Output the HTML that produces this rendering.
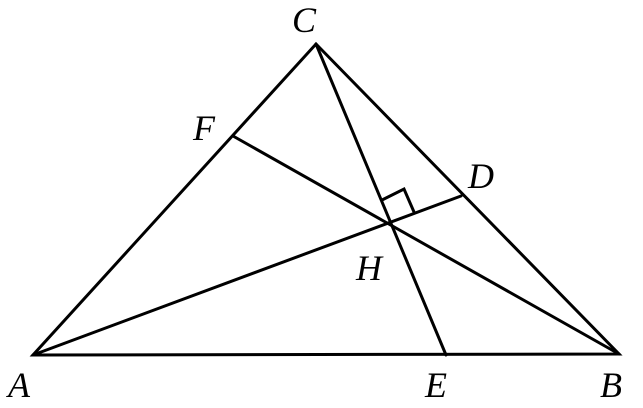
<!DOCTYPE html>
<html><head><style>body{margin:0;background:#fff}</style></head><body>
<svg width="643" height="403" viewBox="0 0 643 403" xmlns="http://www.w3.org/2000/svg">
<g stroke="#000" stroke-width="3" fill="none" stroke-linecap="round">
<polygon points="33,355 619,354 316,44" stroke-linejoin="miter"/>
<line x1="33" y1="355" x2="461" y2="196"/>
<line x1="619" y1="354" x2="233" y2="136"/>
<line x1="316" y1="44" x2="446" y2="355"/>
<polyline points="382,200 404,189 414,212"/>
</g>
<g font-family="Liberation Serif, serif" font-style="italic" font-size="36" fill="#000">
<text x="292" y="32">C</text>
<text x="193" y="140">F</text>
<text x="468" y="188">D</text>
<text x="356" y="280">H</text>
<text x="8" y="397">A</text>
<text x="425" y="397">E</text>
<text x="600" y="397">B</text>
</g>
</svg>
</body></html>
